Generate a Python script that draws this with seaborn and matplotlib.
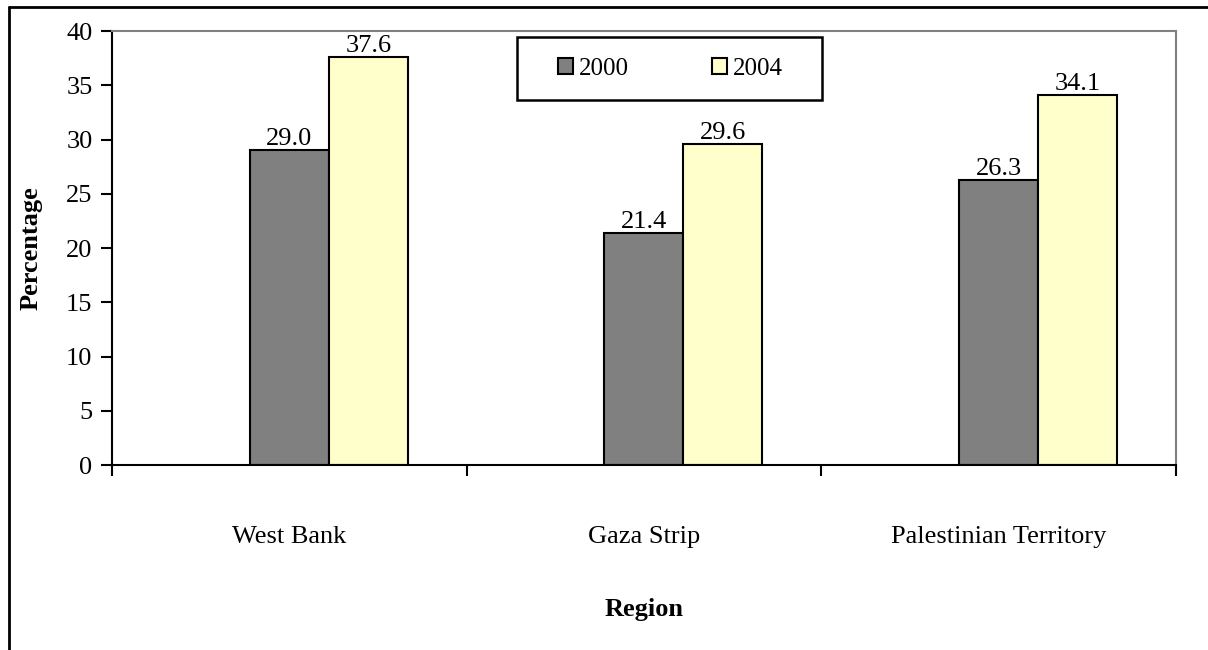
import seaborn as sns
import matplotlib.pyplot as plt
import pandas as pd
from matplotlib.lines import Line2D
from matplotlib.patches import Patch, Rectangle

regions = ["West Bank", "Gaza Strip", "Palestinian Territory"]
years = ["2000", "2004"]
values_2000 = [29.0, 21.4, 26.3]
values_2004 = [37.6, 29.6, 34.1]
colors = {"pad": "#808080", "2000": "#808080", "2004": "#FFFFCC"}

df = pd.DataFrame({
    "Region": regions * 2,
    "Year": ["2000"] * 3 + ["2004"] * 3,
    "Percentage": values_2000 + values_2004,
})

sns.set_style("white")
plt.rcParams["font.family"] = ["Liberation Serif", "DejaVu Serif"]
plt.rcParams["text.color"] = "black"
plt.rcParams["axes.labelcolor"] = "black"
plt.rcParams["xtick.color"] = "black"
plt.rcParams["ytick.color"] = "black"

fs = 19

fig = plt.figure(figsize=(12.08, 6.5), dpi=100)
ax = fig.add_axes([0.0927, 0.2846, 0.8808, 0.6677])

# empty first hue slot so 2000 sits on the category centre (Excel style)
sns.barplot(data=df, x="Region", y="Percentage", hue="Year",
            hue_order=["pad", "2000", "2004"], palette=colors,
            saturation=1, width=0.668, edgecolor="black", linewidth=1.5,
            legend=False, ax=ax)

for cont in ax.containers:
    ax.bar_label(cont, fmt="%.1f", fontsize=fs, padding=0)

ax.set_xlim(-0.5, 2.5)
ax.set_ylim(0, 40)
ax.set_yticks(range(0, 41, 5))
ax.tick_params(axis="y", labelsize=fs, direction="out", length=8, width=1.5,
               left=True, pad=6)
ax.set_xticks([-0.5, 0.5, 1.5, 2.5], minor=True)
ax.set_xticks(range(3))
ax.set_xticklabels(regions, fontsize=fs)
ax.tick_params(axis="x", which="major", length=0, pad=44)
ax.tick_params(axis="x", which="minor", direction="out", length=8, width=1.5,
               bottom=True)

for side in ["left", "bottom"]:
    ax.spines[side].set_color("black")
    ax.spines[side].set_linewidth(1.5)
for side in ["top", "right"]:
    ax.spines[side].set_visible(True)
    ax.spines[side].set_color("#808080")
    ax.spines[side].set_linewidth(1.5)

ax.set_ylabel("Percentage", fontsize=fs, fontweight="bold", labelpad=17)
ax.set_xlabel("Region", fontsize=fs, fontweight="bold", labelpad=36)

# legend box drawn separately so its size matches the original
ax.add_patch(Rectangle((0.381, 0.841), 0.286, 0.145, transform=ax.transAxes,
                       facecolor="white", edgecolor="black", linewidth=1.8,
                       clip_on=False, zorder=4))
handles = [Patch(facecolor=colors[y], edgecolor="black", linewidth=1.5) for y in years]
leg = ax.legend(handles, years, ncol=2, fontsize=18, loc="center",
                bbox_to_anchor=(0.525, 0.9135), frameon=False,
                handlelength=0.6, handleheight=0.6, handletextpad=0.25,
                columnspacing=3.3, borderpad=0, borderaxespad=0)
leg.set_zorder(5)

# outer chart border (top and left visible)
fig.add_artist(Line2D([0.0075, 1.0], [0.989, 0.989], color="black", linewidth=2))
fig.add_artist(Line2D([0.0075, 0.0075], [0.0, 0.989], color="black", linewidth=2))

fig.savefig("out.png", dpi=100)
